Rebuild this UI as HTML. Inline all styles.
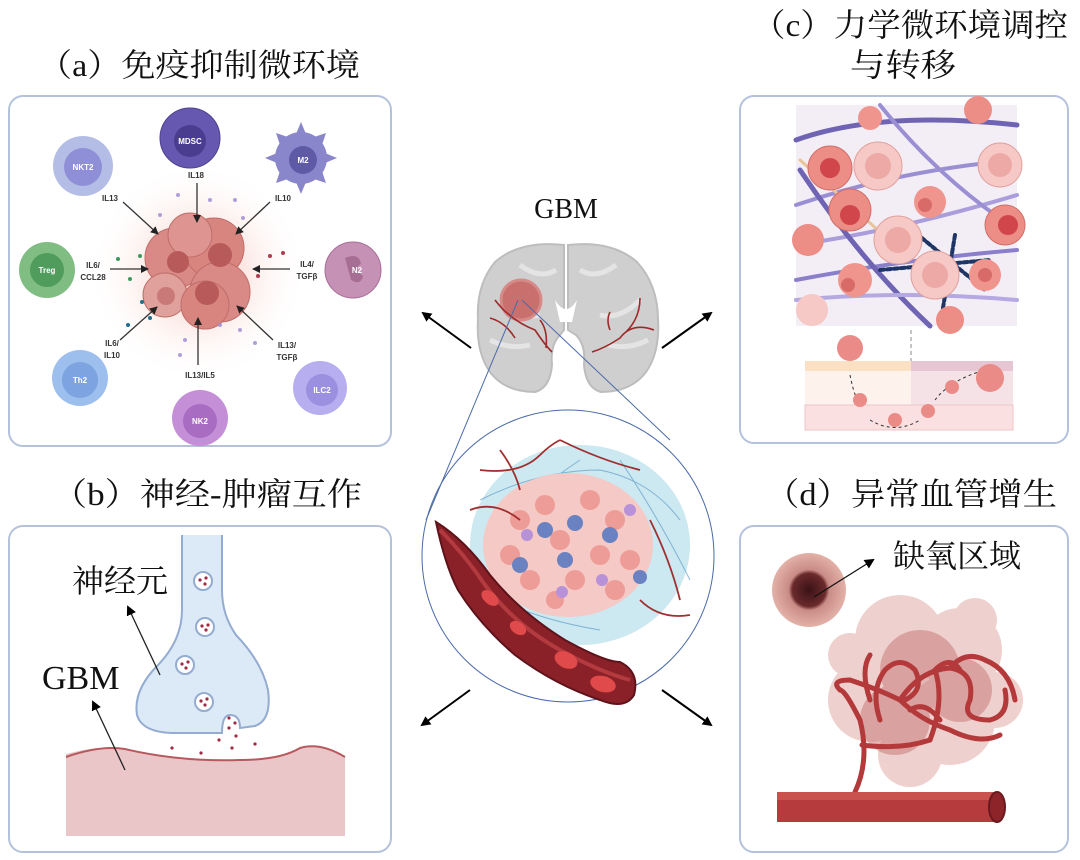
<!DOCTYPE html>
<html><head><meta charset="utf-8">
<style>
html,body{margin:0;padding:0;background:#fff;}
svg{display:block;}
.t{font-family:"Liberation Serif","Noto Serif CJK SC",serif;fill:#111;}
.s{font-family:"Liberation Sans",sans-serif;font-weight:bold;fill:#333;font-size:8px;text-anchor:middle;}
.w{font-family:"Liberation Sans",sans-serif;font-weight:bold;fill:#fff;font-size:8px;text-anchor:middle;}
</style></head><body>
<svg width="1080" height="860" viewBox="0 0 1080 860" xmlns="http://www.w3.org/2000/svg">
<defs>
<marker id="ah" markerWidth="10" markerHeight="10" refX="8" refY="5" orient="auto" markerUnits="userSpaceOnUse"><path d="M0,0 L10,5 L0,10 z" fill="#000"/></marker>
<marker id="sh" markerWidth="8" markerHeight="8" refX="7" refY="4" orient="auto" markerUnits="userSpaceOnUse"><path d="M0,0 L8,4 L0,8 z" fill="#222"/></marker>
<radialGradient id="glow"><stop offset="0" stop-color="#f3b3a6" stop-opacity=".9"/><stop offset="1" stop-color="#fff" stop-opacity="0"/></radialGradient>
<radialGradient id="hyp"><stop offset="0" stop-color="#3a1216"/><stop offset=".45" stop-color="#6a2a2c"/><stop offset=".55" stop-color="#c98c86"/><stop offset="1" stop-color="#e3b1a8"/></radialGradient>
</defs>

<text class="t" x="38" y="76" font-size="32" textLength="322" lengthAdjust="spacingAndGlyphs">（a）免疫抑制微环境</text>
<text class="t" x="752" y="36" font-size="32" textLength="316" lengthAdjust="spacingAndGlyphs">（c）力学微环境调控</text>
<text class="t" x="850" y="76" font-size="32" textLength="106" lengthAdjust="spacingAndGlyphs">与转移</text>
<text class="t" x="52" y="505" font-size="32" textLength="310" lengthAdjust="spacingAndGlyphs">（b）神经-肿瘤互作</text>
<text class="t" x="765" y="505" font-size="32" textLength="292" lengthAdjust="spacingAndGlyphs">（d）异常血管增生</text>

<rect x="9" y="96" width="382" height="350" rx="14" fill="#fff" stroke="#b5c2dc" stroke-width="2"/>
<rect x="740" y="96" width="328" height="347" rx="14" fill="#fff" stroke="#b5c2dc" stroke-width="2"/>
<rect x="9" y="526" width="382" height="326" rx="14" fill="#fff" stroke="#b5c2dc" stroke-width="2"/>
<rect x="740" y="526" width="328" height="326" rx="14" fill="#fff" stroke="#b5c2dc" stroke-width="2"/>

<!-- panel a -->
<circle cx="198" cy="272" r="110" fill="url(#glow)"/>
<g>
<circle cx="175" cy="258" r="30" fill="#d98a86" stroke="#c06d6a"/>
<circle cx="214" cy="248" r="30" fill="#d8847f" stroke="#c06d6a"/>
<circle cx="190" cy="235" r="22" fill="#de9490" stroke="#c06d6a"/>
<circle cx="220" cy="292" r="30" fill="#d98a86" stroke="#c06d6a"/>
<circle cx="165" cy="295" r="22" fill="#e0a09b" stroke="#c06d6a"/>
<circle cx="205" cy="305" r="24" fill="#d8847f" stroke="#c06d6a"/>
<circle cx="178" cy="262" r="11" fill="#b85a5a"/>
<circle cx="220" cy="255" r="12" fill="#b85a5a"/>
<circle cx="207" cy="293" r="12" fill="#b85a5a"/>
<circle cx="166" cy="296" r="9" fill="#c97a78"/>
</g>
<circle cx="83" cy="166" r="30" fill="#b4bde6"/><circle cx="83" cy="167" r="19" fill="#8e8fd6"/><text class="w" x="83" y="170">NKT2</text>
<circle cx="190" cy="138" r="30" fill="#6658b0" stroke="#4e4291"/><circle cx="190" cy="141" r="16" fill="#4a3c8e"/><text class="w" x="190" y="144">MDSC</text>
<g fill="#8a86cc"><circle cx="301" cy="158" r="26"/>
<path d="M301,122 l5,12 -10,0z M337,158 l-12,5 0,-10z M301,194 l-5,-12 10,0z M265,158 l12,-5 0,10z M326,133 l-4,12 -8,-8z M326,183 l-12,-4 8,-8z M276,183 l4,-12 8,8z M276,133 l12,4 -8,8z"/></g>
<circle cx="303" cy="160" r="14" fill="#5f5aa6"/><text class="w" x="303" y="163">M2</text>
<circle cx="47" cy="270" r="28" fill="#7fbd82"/><circle cx="47" cy="270" r="17" fill="#4f9c5c"/><text class="w" x="47" y="273">Treg</text>
<circle cx="353" cy="270" r="28" fill="#c591b4" stroke="#a86d97"/><path d="M345,258 q14,-6 16,6 q-8,4 2,12 q-2,10 -12,4" fill="#a76e93"/><text class="w" x="357" y="273">N2</text>
<circle cx="80" cy="378" r="28" fill="#9dbfee"/><circle cx="80" cy="380" r="18" fill="#7da4e0"/><text class="w" x="80" y="383">Th2</text>
<circle cx="200" cy="418" r="28" fill="#c58fd8"/><circle cx="200" cy="421" r="17" fill="#a86cc2"/><text class="w" x="200" y="424">NK2</text>
<circle cx="320" cy="388" r="27" fill="#b7aef0"/><circle cx="322" cy="390" r="16" fill="#9b8fe0"/><text class="w" x="322" y="393">ILC2</text>
<g stroke="#333" stroke-width="1.3" marker-end="url(#sh)">
<line x1="197" y1="183" x2="197" y2="222"/>
<line x1="123" y1="202" x2="158" y2="234"/>
<line x1="270" y1="202" x2="236" y2="234"/>
<line x1="110" y1="269" x2="148" y2="269"/>
<line x1="290" y1="269" x2="253" y2="269"/>
<line x1="120" y1="340" x2="157" y2="307"/>
<line x1="198" y1="365" x2="198" y2="318"/>
<line x1="273" y1="340" x2="237" y2="306"/>
</g>
<text class="s" x="196" y="178">IL18</text>
<text class="s" x="110" y="201">IL13</text>
<text class="s" x="283" y="201">IL10</text>
<text class="s" x="93" y="268">IL6/</text><text class="s" x="93" y="280">CCL28</text>
<text class="s" x="307" y="267">IL4/</text><text class="s" x="307" y="279">TGFβ</text>
<text class="s" x="112" y="346">IL6/</text><text class="s" x="112" y="358">IL10</text>
<text class="s" x="200" y="378">IL13/IL5</text>
<text class="s" x="287" y="348">IL13/</text><text class="s" x="287" y="360">TGFβ</text>
<g fill="#9a8ad0" opacity=".8">
<circle cx="178" cy="195" r="2"/><circle cx="210" cy="200" r="2"/><circle cx="160" cy="215" r="2"/><circle cx="243" cy="218" r="2"/><circle cx="235" cy="200" r="2"/>
<circle cx="220" cy="325" r="2"/><circle cx="185" cy="340" r="2"/><circle cx="240" cy="330" r="2"/><circle cx="255" cy="343" r="2"/><circle cx="180" cy="355" r="2"/>
</g>
<g fill="#3c9a5c"><circle cx="118" cy="259" r="2"/><circle cx="140" cy="256" r="2"/><circle cx="130" cy="279" r="2"/></g>
<g fill="#b03a50"><circle cx="270" cy="256" r="2"/><circle cx="258" cy="276" r="2"/><circle cx="283" cy="253" r="2"/></g>
<g fill="#1f6f8a"><circle cx="142" cy="302" r="2"/><circle cx="128" cy="325" r="2"/><circle cx="150" cy="318" r="2"/></g>

<!-- panel c -->
<rect x="796" y="105" width="221" height="221" fill="#f3eef6"/>
<g fill="none" stroke-linecap="round">
<path d="M796,140 Q880,110 1017,125" stroke="#6f64b4" stroke-width="5"/>
<path d="M796,205 Q900,170 1017,160" stroke="#9b8fd4" stroke-width="4"/>
<path d="M796,245 Q900,230 1017,195" stroke="#a99ddb" stroke-width="4"/>
<path d="M796,280 Q900,260 1017,250" stroke="#8a7fca" stroke-width="4"/>
<path d="M800,170 Q860,260 930,326" stroke="#6f64b4" stroke-width="5"/>
<path d="M880,105 Q940,180 1017,230" stroke="#9b8fd4" stroke-width="4"/>
<path d="M796,300 Q900,290 1017,300" stroke="#b4a9e0" stroke-width="4"/>
<path d="M900,220 L985,290 M955,235 L940,326 M880,270 L990,260" stroke="#1f3566" stroke-width="4" stroke-dasharray="4 3"/>
<path d="M800,160 L900,250" stroke="#e8c49a" stroke-width="3"/>
</g>
<g>
<circle cx="830" cy="168" r="22" fill="#ec8d86" stroke="#d06e69"/><circle cx="830" cy="168" r="10" fill="#d0464a"/>
<circle cx="878" cy="166" r="24" fill="#f6c9c6" stroke="#e0a09c"/><circle cx="878" cy="166" r="13" fill="#eda9a6"/>
<circle cx="1000" cy="165" r="22" fill="#f6c9c6" stroke="#e0a09c"/><circle cx="1000" cy="165" r="12" fill="#eda9a6"/>
<circle cx="850" cy="210" r="21" fill="#ec8d86" stroke="#d06e69"/><circle cx="850" cy="215" r="10" fill="#d0464a"/>
<circle cx="898" cy="240" r="24" fill="#f6c9c6" stroke="#e0a09c"/><circle cx="898" cy="240" r="13" fill="#eda9a6"/>
<circle cx="935" cy="275" r="24" fill="#f6c9c6" stroke="#e0a09c"/><circle cx="935" cy="275" r="13" fill="#eda9a6"/>
<circle cx="1005" cy="225" r="20" fill="#ec8d86" stroke="#d06e69"/><circle cx="1008" cy="225" r="10" fill="#d0464a"/>
<circle cx="930" cy="202" r="16" fill="#f0958e"/><circle cx="925" cy="205" r="7" fill="#d86a68"/>
<circle cx="855" cy="280" r="17" fill="#f0958e"/><circle cx="848" cy="285" r="7" fill="#d86a68"/>
<circle cx="985" cy="275" r="16" fill="#f0958e"/><circle cx="985" cy="275" r="7" fill="#d86a68"/>
<circle cx="870" cy="118" r="12" fill="#f0958e"/><circle cx="978" cy="110" r="14" fill="#ec8d86"/>
<circle cx="808" cy="240" r="16" fill="#ec8d86"/><circle cx="812" cy="310" r="16" fill="#f6c9c6"/>
<circle cx="950" cy="320" r="14" fill="#ec8d86"/>
</g>
<line x1="911" y1="330" x2="911" y2="405" stroke="#888" stroke-dasharray="4 3"/>
<rect x="805" y="361" width="106" height="10" fill="#fbe0c4"/>
<rect x="911" y="361" width="102" height="10" fill="#e6c6d2"/>
<rect x="805" y="371" width="106" height="34" fill="#fdf2ec"/>
<rect x="911" y="371" width="102" height="34" fill="#f5e2e6"/>
<rect x="805" y="405" width="208" height="25" fill="#fbe0e2" stroke="#ecc6c8"/>
<path d="M850,375 Q855,400 860,402 M870,420 Q895,435 920,420 M935,400 Q950,380 985,370" fill="none" stroke="#333" stroke-dasharray="3 3"/>
<g fill="#ea8b87"><circle cx="850" cy="348" r="13"/><circle cx="860" cy="400" r="7"/><circle cx="895" cy="420" r="7"/><circle cx="928" cy="411" r="7"/><circle cx="952" cy="387" r="7"/><circle cx="990" cy="378" r="14"/></g>

<!-- center -->
<text class="t" x="566" y="218" font-size="28" text-anchor="middle">GBM</text>
<!-- brain: two hemispheres -->
<path d="M564,245 Q520,240 495,262 Q476,285 478,320 Q476,352 490,372 Q505,392 535,392 Q550,388 552,365 Q550,345 560,335 L564,330 Z" fill="#cfcfcf" stroke="#bdbdbd" stroke-width="2"/>
<path d="M568,245 Q612,240 637,262 Q658,285 658,320 Q660,352 646,372 Q631,392 601,392 Q586,388 584,365 Q586,345 576,335 L568,330 Z" fill="#cfcfcf" stroke="#bdbdbd" stroke-width="2"/>
<path d="M500,300 Q520,320 540,315 M490,340 Q510,350 530,345 M640,300 Q620,320 600,315 M648,340 Q628,350 608,345 M520,265 Q540,280 556,270 M616,265 Q596,280 580,270" fill="none" stroke="#e4e4e4" stroke-width="5"/>
<path d="M555,300 Q566,318 577,300 L572,322 L560,322z" fill="#fff"/>
<circle cx="521" cy="300" r="20" fill="#c9706e" stroke="#d68a88" stroke-width="3"/>
<g stroke="#9b2b2b" stroke-width="1.6" fill="none">
<path d="M495,300 Q510,320 535,330 Q545,345 552,352 M490,318 Q505,322 515,338 M540,320 Q548,330 546,348"/>
<path d="M654,330 Q632,322 620,338 Q605,348 592,352 M640,298 Q640,318 626,332 M610,330 Q606,320 610,312"/>
</g>
<g stroke="#4a6aa8" stroke-width="1" fill="none">
<line x1="518" y1="300" x2="426" y2="520"/>
<line x1="522" y1="300" x2="670" y2="440"/>
<circle cx="568" cy="556" r="146"/>
</g>
<ellipse cx="580" cy="545" rx="110" ry="100" fill="#c6e6f0" opacity=".9"/>
<g stroke="#4a8fc0" stroke-width="1" fill="none" opacity=".6">
<path d="M480,500 Q540,470 600,470 Q650,480 680,520 M490,540 Q520,500 580,460 M620,460 Q660,520 690,580 M500,600 Q540,620 600,630"/>
</g>
<ellipse cx="568" cy="545" rx="85" ry="72" fill="#f4c9c6"/>
<g fill="#ee9c98">
<circle cx="520" cy="520" r="10"/><circle cx="545" cy="505" r="10"/><circle cx="590" cy="500" r="10"/><circle cx="615" cy="520" r="10"/>
<circle cx="510" cy="555" r="10"/><circle cx="560" cy="540" r="10"/><circle cx="600" cy="555" r="10"/><circle cx="630" cy="560" r="10"/>
<circle cx="530" cy="580" r="10"/><circle cx="575" cy="580" r="10"/><circle cx="615" cy="590" r="10"/><circle cx="555" cy="600" r="9"/>
</g>
<g fill="#6a82c2"><circle cx="545" cy="530" r="8"/><circle cx="575" cy="523" r="8"/><circle cx="610" cy="535" r="8"/><circle cx="520" cy="565" r="8"/><circle cx="565" cy="560" r="8"/><circle cx="640" cy="577" r="7"/></g>
<g fill="#b892d8"><circle cx="527" cy="535" r="6"/><circle cx="630" cy="510" r="6"/><circle cx="562" cy="592" r="6"/><circle cx="602" cy="580" r="6"/></g>
<g stroke="#a02f2f" stroke-width="1.8" fill="none">
<path d="M480,470 Q520,475 540,455 Q550,445 560,440 M500,450 Q515,470 520,490 M560,440 Q600,460 640,470 M650,520 Q670,560 680,600 M640,600 Q660,620 690,615 M470,510 Q495,500 520,520"/>
</g>
<!-- thick vessel -->
<path d="M436,522 Q465,540 490,575 Q520,612 565,640 Q605,662 620,662 Q640,672 634,695 Q625,710 600,700 Q555,685 515,655 Q480,625 458,590 Q445,565 436,522 Z" fill="#8a2128" stroke="#5e121a" stroke-width="2"/>
<path d="M440,530 Q465,555 485,585 Q515,625 560,650 Q600,672 630,680" fill="none" stroke="#b33a3e" stroke-width="4"/>
<g fill="#e04a4a"><ellipse cx="490" cy="598" rx="10" ry="6" transform="rotate(40 490 598)"/><ellipse cx="518" cy="628" rx="9" ry="6" transform="rotate(35 518 628)"/><ellipse cx="566" cy="660" rx="12" ry="8" transform="rotate(25 566 660)"/><ellipse cx="603" cy="684" rx="13" ry="8" transform="rotate(15 603 684)"/></g>

<g stroke="#000" stroke-width="2" marker-end="url(#ah)">
<line x1="471" y1="348" x2="423" y2="313"/>
<line x1="662" y1="348" x2="711" y2="313"/>
<line x1="470" y1="690" x2="422" y2="725"/>
<line x1="662" y1="690" x2="711" y2="725"/>
</g>

<!-- panel b -->
<path d="M66,754 Q100,745 125,749 Q180,760 240,760 Q280,760 300,748 Q320,742 345,757 L345,836 L66,836z" fill="#ebc6c8"/>
<path d="M66,757 Q100,745 125,749 Q180,762 240,760 Q280,760 300,748 Q320,742 345,757" fill="none" stroke="#b55a5e" stroke-width="2"/>
<path d="M182,535 L182,610 Q182,640 158,665 Q133,690 137,715 Q142,732 172,733 L222,733 Q222,715 230,715 Q240,715 240,728 L255,726 Q272,720 268,690 Q262,662 236,635 Q222,615 222,590 L222,535" fill="#dce9f6" stroke="#94acd0" stroke-width="2"/>
<g fill="#fff" stroke="#94acd0" stroke-width="2"><circle cx="203" cy="581" r="9"/><circle cx="205" cy="627" r="9"/><circle cx="185" cy="665" r="9"/><circle cx="204" cy="702" r="9"/></g>
<g fill="#a02b44"><circle cx="200" cy="580" r="1.6"/><circle cx="206" cy="578" r="1.6"/><circle cx="205" cy="584" r="1.6"/><circle cx="202" cy="626" r="1.6"/><circle cx="208" cy="625" r="1.6"/><circle cx="206" cy="630" r="1.6"/><circle cx="182" cy="664" r="1.6"/><circle cx="188" cy="662" r="1.6"/><circle cx="186" cy="668" r="1.6"/><circle cx="201" cy="701" r="1.6"/><circle cx="207" cy="699" r="1.6"/><circle cx="205" cy="705" r="1.6"/>
<circle cx="229" cy="718" r="1.6"/><circle cx="235" cy="723" r="1.6"/><circle cx="229" cy="728" r="1.6"/><circle cx="236" cy="736" r="1.6"/><circle cx="219" cy="740" r="1.6"/><circle cx="232" cy="748" r="1.6"/><circle cx="255" cy="744" r="1.6"/><circle cx="172" cy="748" r="1.6"/><circle cx="201" cy="753" r="1.6"/></g>
<text class="t" x="72" y="592" font-size="32">神经元</text>
<text class="t" x="42" y="689" font-size="34">GBM</text>
<g stroke="#222" stroke-width="1.3" marker-end="url(#ah)">
<line x1="160" y1="675" x2="128" y2="607"/>
<line x1="125" y1="770" x2="93" y2="702"/>
</g>

<!-- panel d -->
<g fill="#e4b3ae" opacity=".6">
<circle cx="900" cy="640" r="45"/><circle cx="960" cy="650" r="42"/><circle cx="870" cy="700" r="42"/><circle cx="950" cy="720" r="45"/><circle cx="995" cy="700" r="28"/><circle cx="910" cy="755" r="32"/><circle cx="850" cy="655" r="22"/><circle cx="975" cy="620" r="22"/>
</g>
<g fill="#c97b79" opacity=".55"><circle cx="920" cy="670" r="40"/><circle cx="895" cy="720" r="35"/><circle cx="960" cy="690" r="32"/></g>
<g fill="none" stroke="#b3393a" stroke-width="5" stroke-linecap="round">
<path d="M855,792 Q870,760 860,720 Q845,690 840,690 Q830,680 850,680 Q880,690 900,700 Q920,720 950,730 Q980,745 1000,735"/>
<path d="M862,745 Q900,750 930,740 M880,720 Q870,690 885,670 Q900,655 915,670 Q925,690 905,700 M900,700 Q920,670 950,668 Q975,672 970,700 Q960,720 990,720 Q1010,715 1005,690"/>
<path d="M930,740 Q945,700 935,670 Q950,655 960,670 M950,668 Q965,650 985,660 Q1010,670 1015,700 M940,720 Q925,700 910,710 M870,700 Q860,670 870,655"/>
</g>
<rect x="777" y="792" width="221" height="30" fill="#b53b3c"/>
<rect x="777" y="792" width="221" height="8" fill="#c9524f"/>
<ellipse cx="997" cy="807" rx="8" ry="15" fill="#8c2429" stroke="#6a1a1e" stroke-width="2"/>
<circle cx="809" cy="590" r="37" fill="url(#hyp)"/>
<text class="t" x="893" y="567" font-size="32">缺氧区域</text>
<line x1="814" y1="597" x2="873" y2="560" stroke="#111" stroke-width="1.3" marker-end="url(#ah)"/>
</svg>
</body></html>
